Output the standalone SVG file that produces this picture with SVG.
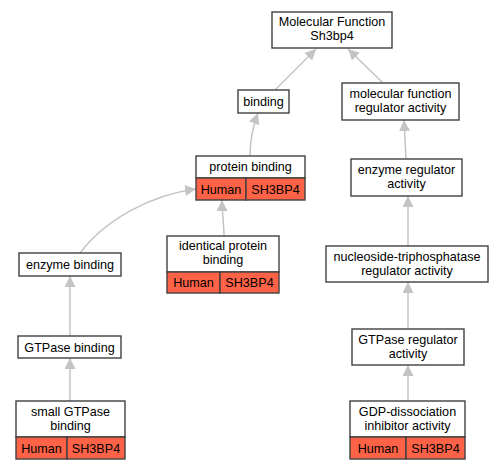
<svg xmlns="http://www.w3.org/2000/svg" width="503" height="469" viewBox="0 0 503 469">
<style>
.n{fill:#fff;stroke:#404040;stroke-width:1.4}
.r{fill:#ff6347;stroke:#404040;stroke-width:1.4}
text{font-family:"Liberation Sans",Arial,sans-serif;font-size:12.6px;fill:#000;text-anchor:middle}
.e{fill:none;stroke:#c4c4c4;stroke-width:1.5}
</style>
<defs>
<marker id="a" markerUnits="userSpaceOnUse" markerWidth="12" markerHeight="12" refX="11" refY="5.5" orient="auto">
<path d="M0,0 L11,5.5 L0,11 Z" fill="#c4c4c4"/>
</marker>
</defs>
<rect width="503" height="469" fill="#fff"/>
<g id="edges">
<path class="e" marker-end="url(#a)" d="M275,90 L316,49"/>
<path class="e" marker-end="url(#a)" d="M383,83 L348,49"/>
<path class="e" marker-end="url(#a)" d="M250,156 C250,140 253,126 258,113"/>
<path class="e" marker-end="url(#a)" d="M406,159 L404,120"/>
<path class="e" marker-end="url(#a)" d="M224,236 C224,225 222,212 222,200"/>
<path class="e" marker-end="url(#a)" d="M80,253 C105,220 150,195 196,189"/>
<path class="e" marker-end="url(#a)" d="M408,246 L408,196"/>
<path class="e" marker-end="url(#a)" d="M70,336 L70,276"/>
<path class="e" marker-end="url(#a)" d="M70,401 L70,358"/>
<path class="e" marker-end="url(#a)" d="M408,329 L408,282"/>
<path class="e" marker-end="url(#a)" d="M408,401 L408,365"/>
</g>
<g id="mf"><rect class="n" x="272" y="12" width="120" height="36"/><text x="332" y="26">Molecular Function</text><text x="332" y="40">Sh3bp4</text></g>
<g id="binding"><rect class="n" x="238" y="90" width="51" height="23"/><text x="263.5" y="106">binding</text></g>
<g id="mfra"><rect class="n" x="342" y="83" width="117" height="37"/><text x="400.5" y="97.5">molecular function</text><text x="400.5" y="111.5">regulator activity</text></g>
<g id="pb"><rect class="n" x="196" y="156" width="109" height="22"/><rect class="r" x="196" y="178" width="50" height="22"/><rect class="r" x="246" y="178" width="59" height="22"/><text x="250.5" y="171">protein binding</text><text x="221" y="193.5">Human</text><text x="275.5" y="193.5">SH3BP4</text></g>
<g id="era"><rect class="n" x="351" y="159" width="111" height="37"/><text x="406.5" y="173.5">enzyme regulator</text><text x="406.5" y="187.5">activity</text></g>
<g id="ipb"><rect class="n" x="167" y="236" width="112" height="36"/><rect class="r" x="167" y="272" width="53" height="21"/><rect class="r" x="220" y="272" width="59" height="21"/><text x="223" y="250">identical protein</text><text x="223" y="264">binding</text><text x="193.5" y="286.5">Human</text><text x="249.5" y="286.5">SH3BP4</text></g>
<g id="ntra"><rect class="n" x="326" y="246" width="162" height="36"/><text x="407" y="260.5">nucleoside-triphosphatase</text><text x="407" y="274.5">regulator activity</text></g>
<g id="eb"><rect class="n" x="19" y="253" width="102" height="23"/><text x="70" y="269">enzyme binding</text></g>
<g id="gb"><rect class="n" x="18" y="336" width="103" height="22"/><text x="69.5" y="351.5">GTPase binding</text></g>
<g id="gra"><rect class="n" x="352" y="329" width="112" height="36"/><text x="408" y="343.5">GTPase regulator</text><text x="408" y="357.5">activity</text></g>
<g id="sgb"><rect class="n" x="16" y="401" width="109" height="36"/><rect class="r" x="16" y="437" width="51" height="22"/><rect class="r" x="67" y="437" width="58" height="22"/><text x="70.5" y="415.5">small GTPase</text><text x="70.5" y="429.5">binding</text><text x="41.5" y="452.5">Human</text><text x="96" y="452.5">SH3BP4</text></g>
<g id="gdp"><rect class="n" x="350" y="401" width="115" height="36"/><rect class="r" x="350" y="437" width="56" height="22"/><rect class="r" x="406" y="437" width="59" height="22"/><text x="407.5" y="415.5">GDP-dissociation</text><text x="407.5" y="429.5">inhibitor activity</text><text x="378" y="452.5">Human</text><text x="435.5" y="452.5">SH3BP4</text></g>
</svg>
